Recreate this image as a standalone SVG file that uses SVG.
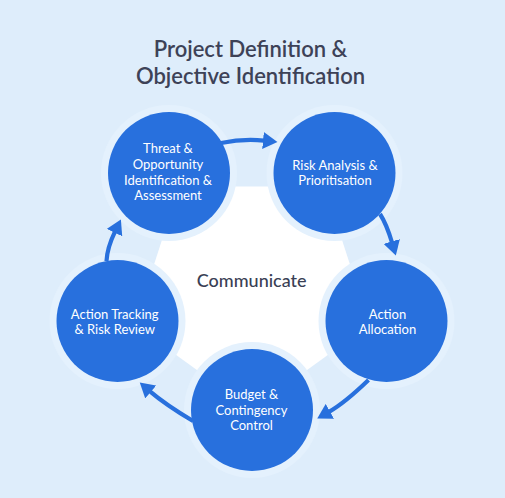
<svg xmlns="http://www.w3.org/2000/svg" width="505" height="498" viewBox="0 0 505 498">
  <defs>
    <style>
      .bg { fill: #deedfb; }
      .core { fill: #ffffff; }
      .halo { fill: #e4f1fd; }
      .node { fill: #2870dd; }
      .lbl { font-family: Lato, "Noto Sans", "Liberation Sans", sans-serif; font-size: 13px; font-weight: 400; fill: #ffffff; text-anchor: middle; }
      .title { font-family: Lato, "Noto Sans", "Liberation Sans", sans-serif; font-size: 22px; font-weight: 600; fill: #3d4257; text-anchor: middle; }
      .center { font-family: Lato, "Noto Sans", "Liberation Sans", sans-serif; font-size: 18px; font-weight: 500; fill: #3a3f55; text-anchor: middle; }
      .conn { fill: none; stroke: #2870dd; stroke-width: 4.2; }
    </style>
    <marker id="head" markerUnits="userSpaceOnUse" markerWidth="16" markerHeight="17" viewBox="0 0 16 17" refX="1" refY="8.5" orient="auto">
      <path d="M0,0 L14.5,8.5 L0,17 z" fill="#2870dd"/>
    </marker>
  </defs>

  <rect class="bg" x="0" y="0" width="505" height="498"/>

  <text class="title" x="250.5" y="57.3">Project Definition &amp;</text>
  <text class="title" x="250.5" y="83.5">Objective Identification</text>

  <g id="hub">
    <polygon class="core" points="252,410.1 134.5,324.7 179.3,186.5 324.7,186.5 369.5,324.7"/>
    <circle class="halo" cx="169" cy="173" r="68"/>
    <circle class="halo" cx="334.5" cy="173" r="68"/>
    <circle class="halo" cx="386.5" cy="321" r="68"/>
    <circle class="halo" cx="252" cy="410" r="68"/>
    <circle class="halo" cx="117.5" cy="321" r="68"/>
    <text class="center" x="251.7" y="287">Communicate</text>
  </g>

  <g id="connectors">
    <path class="conn" marker-end="url(#head)" d="M221,143 Q243,138.5 264,140.6"/>
    <path class="conn" marker-end="url(#head)" d="M380,214 Q386.5,224 392,242.5"/>
    <path class="conn" marker-end="url(#head)" d="M368.5,380 Q344.6,403 329,411.8"/>
    <path class="conn" marker-end="url(#head)" d="M193,421 Q165,404.2 150,391.3"/>
    <path class="conn" marker-end="url(#head)" d="M106.5,261 Q107.2,247.8 115,231.7"/>
  </g>

  <g id="node-threat">
    <circle class="node" cx="169" cy="173" r="61"/>
    <text class="lbl" x="168" y="153.3">Threat &amp;</text>
    <text class="lbl" x="168" y="169.1">Opportunity</text>
    <text class="lbl" x="168" y="184.5">Identification &amp;</text>
    <text class="lbl" x="168" y="200">Assessment</text>
  </g>

  <g id="node-risk">
    <circle class="node" cx="334.5" cy="173" r="61"/>
    <text class="lbl" x="335" y="170">Risk Analysis &amp;</text>
    <text class="lbl" x="335" y="185">Prioritisation</text>
  </g>

  <g id="node-allocation">
    <circle class="node" cx="386.5" cy="321" r="61"/>
    <text class="lbl" x="387.5" y="319.3">Action</text>
    <text class="lbl" x="387.5" y="334.3">Allocation</text>
  </g>

  <g id="node-budget">
    <circle class="node" cx="252" cy="410" r="61"/>
    <text class="lbl" x="251.5" y="399.3">Budget &amp;</text>
    <text class="lbl" x="251.5" y="414.5">Contingency</text>
    <text class="lbl" x="251.5" y="430">Control</text>
  </g>

  <g id="node-tracking">
    <circle class="node" cx="117.5" cy="321" r="61"/>
    <text class="lbl" x="114.7" y="319.3">Action Tracking</text>
    <text class="lbl" x="114.7" y="334.3">&amp; Risk Review</text>
  </g>
</svg>
